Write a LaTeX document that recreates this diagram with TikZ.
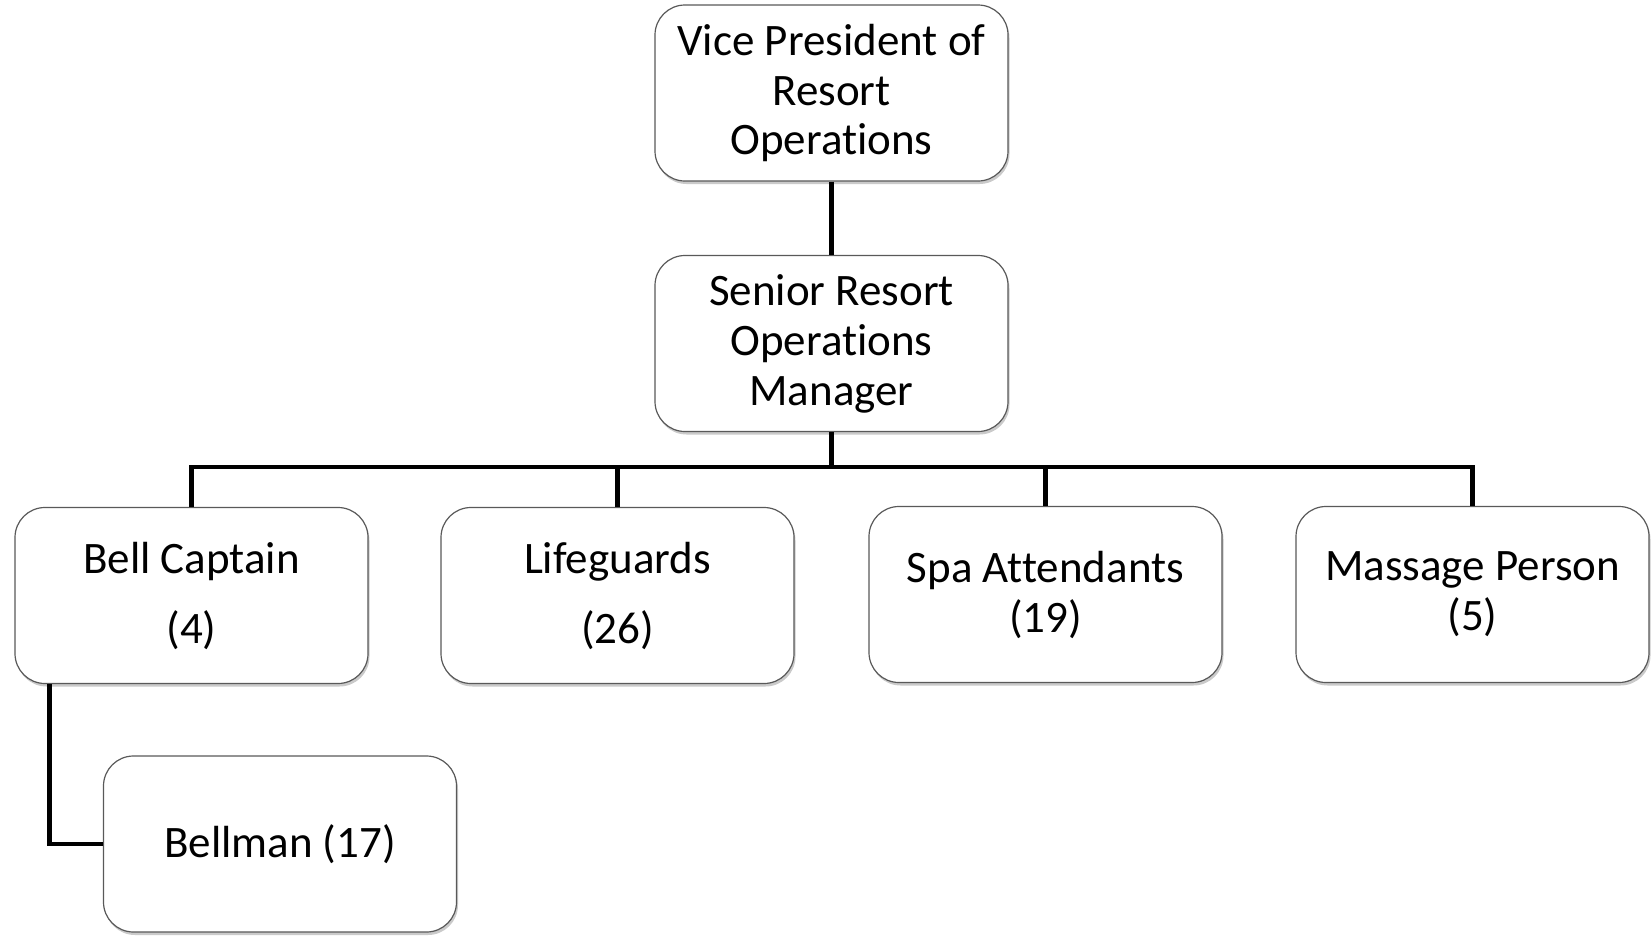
\documentclass[tikz,border=0pt]{standalone}
\usepackage{fontspec}
\setmainfont{Carlito}[Ligatures={NoCommon}]
\usetikzlibrary{shadows,calc}
\begin{document}
\begin{tikzpicture}[x=1pt,y=-1pt,
  box/.style={draw=black!65, line width=1.2pt, rounded corners=30pt, fill=white,
    minimum width=353pt, minimum height=176pt, inner sep=0pt, align=center,
    font=\fontsize{45}{50}\selectfont,
    drop shadow={shadow xshift=1.5pt, shadow yshift=-3pt, fill=black!35, opacity=0.6}},
  conn/.style={line width=4.6pt, black}]
\useasboundingbox (0,0) rectangle (1652,937);
\node[box] (vp) at (831.5,93) {Vice President of\\Resort\\Operations};
\node[box] (srm) at (831.5,343.5) {Senior Resort\\Operations\\Manager};
\node[box] (bell) at (191.5,595.5) {Bell Captain\\[20pt](4)};
\node[box] (life) at (617.5,595.5) {Lifeguards\\[20pt](26)};
\node[box] (spa) at (1045.5,594.5) {Spa Attendants\\(19)};
\node[box] (mas) at (1472.5,594.5) {Massage Person\\(5)};
\node[box] (bm) at (280,844) {Bellman (17)};
\coordinate (bar) at (831.5,467);
\coordinate (bk) at ($(bell.south west)+(35,0)$);
\draw[conn] (vp.south) -- (srm.north);
\draw[conn] (srm.south) -- (bar);
\draw[conn] (bell.north) |- (bar) -| (mas.north);
\draw[conn] (life.north) -- (life.north |- bar);
\draw[conn] (spa.north) -- (spa.north |- bar);
\draw[conn] (bk) |- (bm.west);
\end{tikzpicture}
\end{document}
